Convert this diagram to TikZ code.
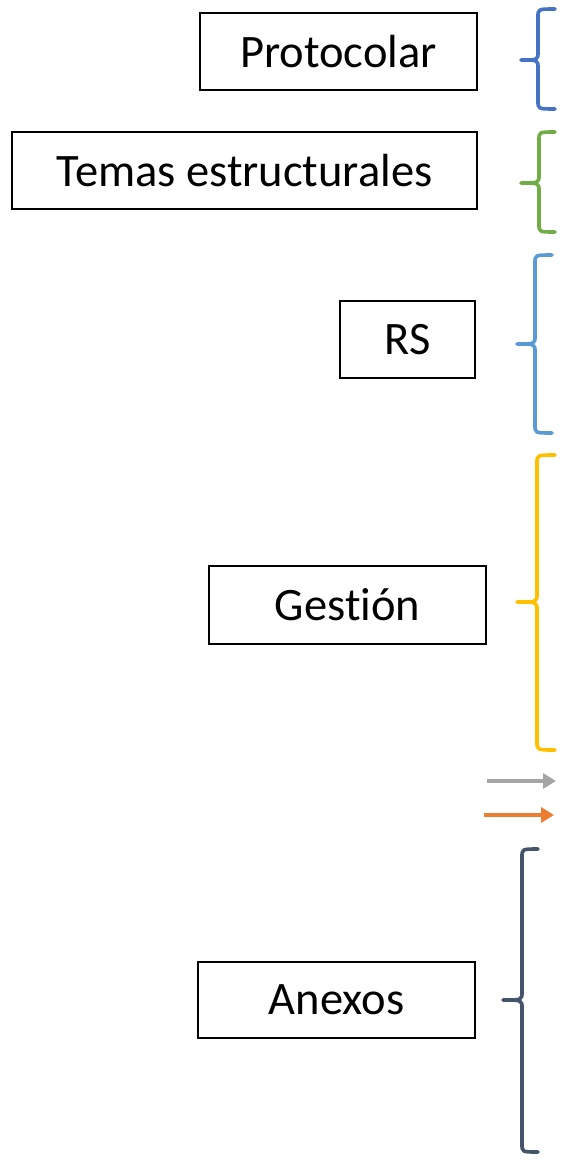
\documentclass[tikz,border=0pt]{standalone}
\usepackage{fontspec}
\setmainfont[Ligatures=NoCommon,RawFeature={-liga;-clig;-dlig}]{Carlito}
\usetikzlibrary{arrows.meta}
\definecolor{cBlue}{HTML}{4472C4}
\definecolor{cGreen}{HTML}{70AD47}
\definecolor{cLBlue}{HTML}{5B9BD5}
\definecolor{cYellow}{HTML}{FFC000}
\definecolor{cDark}{HTML}{44546A}
\definecolor{cGray}{HTML}{A5A5A5}
\definecolor{cOrange}{HTML}{ED7D31}
\tikzset{
  lbl/.style={draw=black, line width=1.5pt, fill=white, inner sep=0pt, font=\fontsize{46.5}{52}\selectfont},
  brc/.style={line width=3.6pt, line cap=round, line join=round},
  arw/.style={line width=3.6pt, -{Triangle[length=13pt,width=15pt]}},
}
\begin{document}
\begin{tikzpicture}[x=1pt,y=-1pt]
\useasboundingbox (0,0) rectangle (564,1160);
% boxes
\node[lbl, minimum width=277pt, minimum height=77pt] (prot) at (338.5,51.5) {Protocolar};
\node[lbl, minimum width=465pt, minimum height=77pt] (temas) at (244.5,170.5) {Temas estructurales};
\node[lbl, minimum width=135pt, minimum height=77pt] (rs) at (407.5,339.5) {RS};
\node[lbl, minimum width=277pt, minimum height=78pt] (gest) at (347.5,605) {Gest\kern0pt ión};
\node[lbl, minimum width=277pt, minimum height=76pt] (anex) at (336.5,1000) {Anexos};
% braces
\draw[brc, cBlue] (555,9) .. controls (538,9) .. (538,17) -- (538,52) .. controls (538,60) .. (521,60)
  (521,60) .. controls (538,60) .. (538,68) -- (538,101) .. controls (538,109) .. (555,109);
\draw[brc, cGreen] (555,132) .. controls (539,132) .. (539,140) -- (539,175) .. controls (539,183) .. (521,183)
  (521,183) .. controls (539,183) .. (539,191) -- (539,224) .. controls (539,232) .. (555,232);
\draw[brc, cLBlue] (552,255) .. controls (535,255) .. (535,263) -- (535,336) .. controls (535,344) .. (517,344)
  (517,344) .. controls (535,344) .. (535,352) -- (535,425) .. controls (535,433) .. (552,433);
\draw[brc, cYellow] (555,455) .. controls (537,455) .. (537,463) -- (537,594) .. controls (537,602) .. (517,602)
  (517,602) .. controls (537,602) .. (537,610) -- (537,742) .. controls (537,750) .. (555,750);
\draw[brc, cDark] (538,849) .. controls (522,849) .. (522,857) -- (522,992) .. controls (522,1000) .. (503,1000)
  (503,1000) .. controls (522,1000) .. (522,1008) -- (522,1144) .. controls (522,1152) .. (538,1152);
% arrows
\coordinate (g1) at (487,781);
\coordinate (g2) at (556,781);
\coordinate (o1) at (484,815);
\coordinate (o2) at (554,815);
\draw[arw, cGray] (g1) -- (g2);
\draw[arw, cOrange] (o1) -- (o2);
\end{tikzpicture}
\end{document}
